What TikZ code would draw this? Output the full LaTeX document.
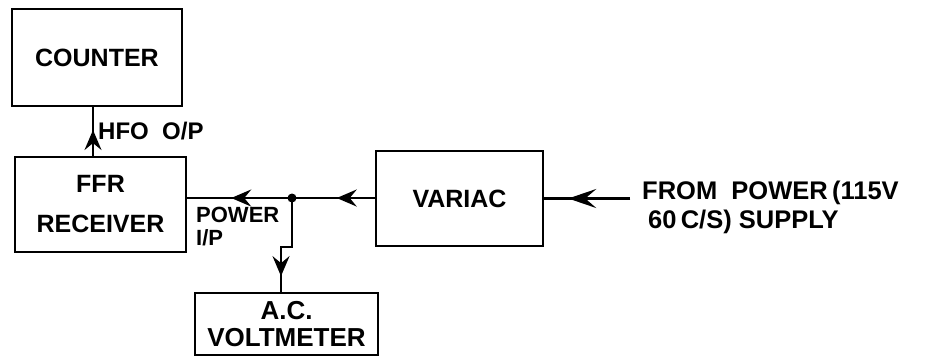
\documentclass[tikz,border=0pt]{standalone}
\usepackage{fontspec}
\setmainfont{Liberation Sans}
\usetikzlibrary{arrows.meta,calc}

\tikzset{
  blk/.style={draw, line width=2.4pt, inner sep=0pt, align=center,
    font=\bfseries\fontsize{25}{30}\selectfont},
  wire/.style={line width=2.4pt},
  barb/.style={wire, -{Stealth[length=20pt,width=17pt,inset=7pt]}},
  longbarb/.style={wire, -{Stealth[length=28pt,width=19pt,inset=11pt]}},
  lbl/.style={inner sep=0pt, align=left, font=\bfseries\fontsize{24}{29}\selectfont}
}

\begin{document}
\begin{tikzpicture}[x=1pt,y=-1pt]
\useasboundingbox (0,0) rectangle (928,357);

% blocks
\node[blk, minimum width=170pt, minimum height=97pt] (counter) at (97,57.5) {COUNTER};
\node[blk, minimum width=171pt, minimum height=95pt] (ffr) at (100.5,204.5) {FFR\\[10pt]RECEIVER};
\node[blk, minimum width=167pt, minimum height=95pt] (variac) at (459.5,198.5) {VARIAC};
\node[blk, minimum width=183pt, minimum height=62pt,
  font=\bfseries\fontsize{26}{27}\selectfont] (acv) at (286.5,324) {A.C.\\VOLTMETER};

% junction and bends
\node[circle, fill, inner sep=0pt, minimum size=9pt] (jn) at (292,198) {};
\coordinate (src) at (630,198.5);
\coordinate (kink) at (281,247);
\coordinate (hfo) at (93,0);

% wires
\draw[wire] (hfo |- ffr.north) -- (hfo |- counter.south);
\draw[wire] (src) -- (variac.east);
\draw[wire] (variac.west |- jn) -- (jn.center) -- (jn -| ffr.east);
\draw[wire] (jn.center) |- (kink) -- (kink |- acv.north);

% arrowheads
\draw[barb] (hfo |- ffr.north) -- ($(hfo |- ffr.north)!0.53!(hfo |- counter.south)$);
\draw[longbarb] (src) -- ($(src)!0.72!(variac.east)$);
\draw[barb] (variac.west |- jn) -- ($(variac.west |- jn)!0.46!(jn.center)$);
\draw[barb] (jn.center) -- ($(jn.center)!0.58!(jn -| ffr.east)$);
\draw[barb] (kink) -- ($(kink)!0.65!(kink |- acv.north)$);

% labels
\node[lbl, anchor=west] (hfolbl) at (98,131) {HFO\ \ O/P};
\node[lbl, anchor=north west, font=\bfseries\fontsize{22}{23}\selectfont] (pwrlbl) at (196,207) {POWER\\I/P};
\node[lbl, anchor=west, font=\bfseries\fontsize{25.5}{29}\selectfont] (srclbl) at (642,207.5) {FROM\ \ POWER\,(115V\\\hspace{6pt}60\,C/S) SUPPLY};
\end{tikzpicture}
\end{document}
